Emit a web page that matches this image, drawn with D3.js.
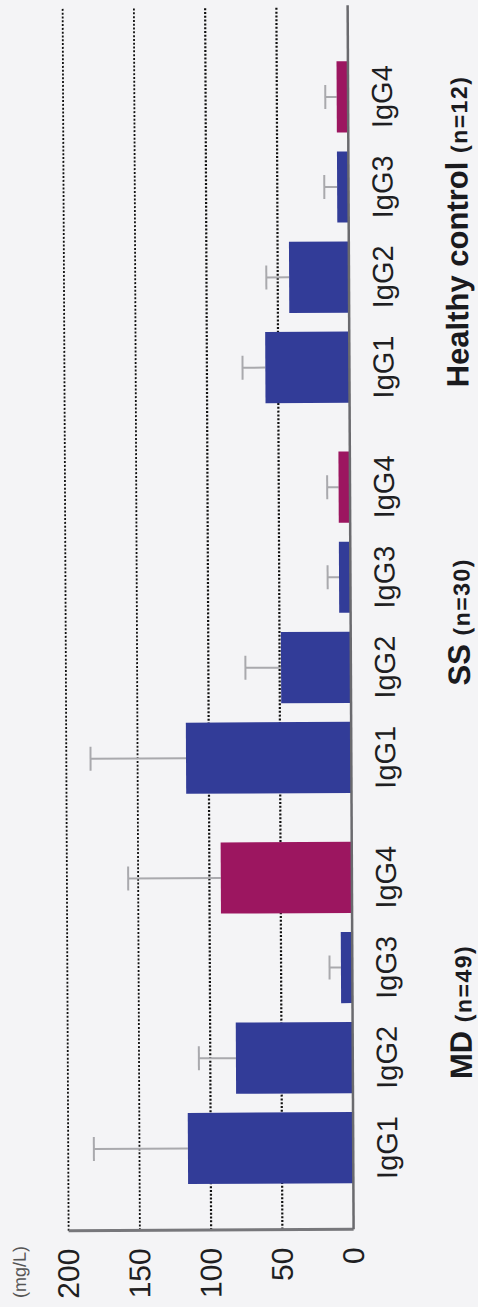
<!DOCTYPE html>
<html>
<head>
<meta charset="utf-8">
<script src="https://cdn.jsdelivr.net/npm/d3@7"></script>
<style>
  html, body { margin: 0; padding: 0; background: #f4f4f6; }
  svg { display: block; font-family: "Liberation Sans", Arial, sans-serif; }
</style>
</head>
<body>
<svg id="chart"></svg>
<script>
// Serum IgG subclass levels (mg/L), mean + SD
var groups     = ["MD", "SS", "Healthy control"];
var groupSizes = ["(n=49)", "(n=30)", "(n=12)"];
var subclasses = ["IgG1", "IgG2", "IgG3", "IgG4"];
var tickValues = [0, 50, 100, 150, 200];

var mdMeans = [116, 82, 8, 92];
var mdSD    = [66, 26, 8, 65];
var ssMeans = [116, 49, 8, 8];
var ssSD    = [67, 25, 8, 8];
var hcMeans = [59, 42, 8, 8];
var hcSD    = [16, 16, 9, 8];

var means = [mdMeans, ssMeans, hcMeans];
var sds   = [mdSD, ssSD, hcSD];

var rows = [];
groups.forEach(function(grp, gi) {
    subclasses.forEach(function(sc, si) {
        rows.push({ group: grp, sub: sc, mean: means[gi][si], sd: sds[gi][si] });
    });
});

var W = 478, H = 1307;
var svg = d3.select("#chart").attr("width", W).attr("height", H);
svg.append("rect").attr("width", W).attr("height", H).attr("fill", "#f4f4f6");

// The figure is printed turned on its side: draw a normal column chart and rotate it
var g = svg.append("g").attr("transform", "translate(0," + (H + 2) + ") rotate(-90.28)");

var axisX = 78, plotEnd = 1300;

var y = d3.scaleLinear().domain([0, 200]).range([354, 69]);

var x0 = d3.scaleBand().domain(groups).range([124, 1246]).paddingInner(0.125);
var x1 = d3.scaleBand().domain(subclasses).range([0, x0.bandwidth()]).paddingInner(0.21);

var color = d3.scaleOrdinal().domain(subclasses).range(["#323c98", "#323c98", "#323c98", "#9c1660"]);

function barMid(d) { return x0(d.group) + x1(d.sub) + x1.bandwidth() / 2; }

// dotted gridlines
g.append("g").selectAll("line")
    .data(tickValues.filter(function(d) { return d > 0; }))
    .enter().append("line")
    .attr("x1", axisX).attr("x2", plotEnd)
    .attr("y1", function(d) { return y(d); })
    .attr("y2", function(d) { return y(d); })
    .attr("stroke", "#111")
    .attr("stroke-width", function(d) { return d <= 100 ? 2.2 : 1.8; })
    .attr("stroke-dasharray", "2,1.8");

// error bars (upper only)
var err = g.append("g").attr("stroke", "#a9a9ad").attr("stroke-width", 2);
err.selectAll("line.stem")
    .data(rows).enter().append("line")
    .attr("class", "stem")
    .attr("x1", barMid).attr("x2", barMid)
    .attr("y1", function(d) { return y(d.mean); })
    .attr("y2", function(d) { return y(d.mean + d.sd); });
err.selectAll("line.cap")
    .data(rows).enter().append("line")
    .attr("class", "cap")
    .attr("x1", function(d) { return barMid(d) - 12; })
    .attr("x2", function(d) { return barMid(d) + 12; })
    .attr("y1", function(d) { return y(d.mean + d.sd); })
    .attr("y2", function(d) { return y(d.mean + d.sd); });

// bars
g.append("g").selectAll("rect")
    .data(rows).enter().append("rect")
    .attr("x", function(d) { return x0(d.group) + x1(d.sub); })
    .attr("y", function(d) { return y(d.mean); })
    .attr("width", x1.bandwidth())
    .attr("height", function(d) { return y(0) - y(d.mean); })
    .attr("fill", function(d) { return color(d.sub); });

// axis lines
g.append("line")
    .attr("x1", axisX).attr("x2", axisX)
    .attr("y1", y(200)).attr("y2", y(0))
    .attr("stroke", "#77777b").attr("stroke-width", 3);
g.append("line")
    .attr("x1", axisX).attr("x2", plotEnd + 2)
    .attr("y1", y(0)).attr("y2", y(0))
    .attr("stroke", "#6a6a6e").attr("stroke-width", 2.5);

// value axis labels
var yAxis = g.append("g")
    .attr("transform", "translate(" + axisX + ",0)")
    .call(d3.axisLeft(y).tickValues(tickValues).tickSize(0).tickPadding(18));
yAxis.select(".domain").remove();
yAxis.selectAll("text")
    .attr("font-family", "Liberation Sans, Arial, sans-serif")
    .attr("font-size", 30)
    .attr("fill", "#1e1e22");

g.append("text")
    .attr("x", 37).attr("y", 26)
    .attr("text-anchor", "middle")
    .attr("font-size", 18)
    .attr("fill", "#555")
    .text("(mg/L)");

// subclass labels
g.append("g").selectAll("text")
    .data(rows).enter().append("text")
    .attr("x", barMid)
    .attr("y", 398)
    .attr("text-anchor", "middle")
    .attr("font-size", 29)
    .attr("fill", "#1e1e22")
    .text(function(d) { return d.sub; });

// group labels
var gl = g.append("g").selectAll("text")
    .data(groups).enter().append("text")
    .attr("x", function(d) { return x0(d) + x0.bandwidth() / 2; })
    .attr("y", 473)
    .attr("text-anchor", "middle")
    .attr("font-weight", "bold")
    .attr("fill", "#1a1a1e");
gl.append("tspan").attr("font-size", 31).text(function(d) { return d + " "; });
gl.append("tspan").attr("font-size", 23).attr("letter-spacing", 1.5)
    .text(function(d, i) { return groupSizes[i]; });
</script>
</body>
</html>
